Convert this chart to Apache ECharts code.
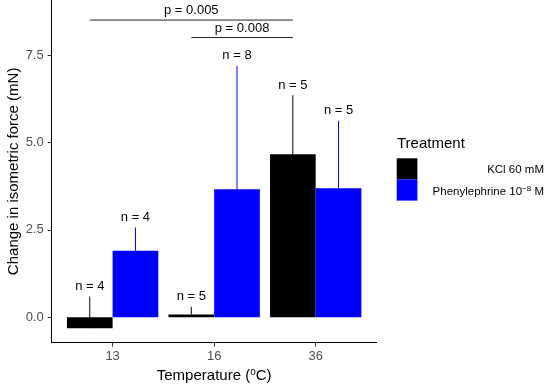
<!DOCTYPE html>
<html>
<head>
<meta charset="utf-8">
<script src="https://cdn.jsdelivr.net/npm/echarts@6/dist/echarts.min.js"></script>
<style>
html,body{margin:0;padding:0;background:#fff;}
#chart{width:550px;height:389px;}
</style>
</head>
<body>
<div id="chart"></div>
<script>
const categories = ['13', '16', '36'];
const kclMean = [-0.31, 0.08, 4.66];
const kclUpper = [0.59, 0.30, 6.35];
const pheMean = [1.90, 3.66, 3.69];
const pheUpper = [2.57, 7.19, 5.62];
const kclN = [4, 5, 5];
const pheN = [4, 8, 5];
const yTicks = [0, 2.5, 5, 7.5];
const bracketFrom = ['13', '16'];
const bracketTo = ['36', '36'];
const bracketY = [8.5, 8.0];
const bracketLabel = ['p = 0.005', 'p = 0.008'];

const FONT = 'Liberation Sans, Arial, sans-serif';
const KCL_COLOR = '#000000';
const PHE_COLOR = '#0000FF';
const DODGE = 0.45;

function barSeries(name, means, side, color) {
  return {
    name: name,
    type: 'custom',
    data: categories.map((c, i) => [i + 1, means[i]]),
    renderItem: function (params, api) {
      const x = api.value(0), y = api.value(1);
      const xa = side < 0 ? x - DODGE : x;
      const xb = side < 0 ? x : x + DODGE;
      const p0 = api.coord([xa, y]);
      const p1 = api.coord([xb, 0]);
      return {
        type: 'rect',
        shape: {
          x: Math.min(p0[0], p1[0]),
          y: Math.min(p0[1], p1[1]),
          width: Math.abs(p1[0] - p0[0]),
          height: Math.abs(p1[1] - p0[1])
        },
        style: { fill: color }
      };
    },
    z: 2
  };
}

function errSeries(name, means, uppers, ns, side, color) {
  return {
    name: name + ' err',
    type: 'custom',
    data: categories.map((c, i) => [i + 1, means[i], uppers[i], ns[i]]),
    renderItem: function (params, api) {
      const x = api.value(0) + side * DODGE / 2;
      const pm = api.coord([x, api.value(1)]);
      const pu = api.coord([x, api.value(2)]);
      return {
        type: 'group',
        children: [
          {
            type: 'line',
            shape: { x1: pm[0], y1: pm[1], x2: pu[0], y2: pu[1] },
            style: { stroke: color, lineWidth: 1 }
          },
          {
            type: 'text',
            x: pu[0], y: pu[1] - 10,
            style: {
              text: 'n = ' + api.value(3),
              fontSize: 13, fontFamily: FONT, fill: '#000',
              align: 'center', verticalAlign: 'middle'
            }
          }
        ]
      };
    },
    z: 3
  };
}

const bracketData = bracketLabel.map((l, i) => [
  categories.indexOf(bracketFrom[i]) + 1 - DODGE / 2,
  categories.indexOf(bracketTo[i]) + 1 - DODGE / 2,
  bracketY[i], i
]);

const option = {
  animation: false,
  backgroundColor: '#fff',
  grid: { left: 51.7, right: 173.4, top: 0, bottom: 46.3, containLabel: false, outerBoundsMode: 'none' },
  xAxis: {
    type: 'value', min: 0.4, max: 3.6,
    splitLine: { show: false },
    axisLine: { show: true, onZero: false, lineStyle: { color: '#000', width: 1 } },
    axisTick: { show: true, customValues: [1, 2, 3], length: 4, lineStyle: { color: '#333' } },
    axisLabel: {
      customValues: [1, 2, 3], margin: 7,
      formatter: v => categories[Math.round(v) - 1],
      fontSize: 13, fontFamily: FONT, color: '#4D4D4D'
    },
    name: '{a|Temperature (}{s|o}{a|C)}',
    nameLocation: 'middle', nameGap: 25, nameMoveOverlap: false,
    nameTextStyle: {
      rich: {
        a: { fontSize: 15, fontFamily: FONT, color: '#000', lineHeight: 16 },
        s: { fontSize: 10, fontFamily: FONT, color: '#000', lineHeight: 9, verticalAlign: 'top' }
      }
    }
  },
  yAxis: {
    type: 'value', min: -0.726, max: 9.074,
    splitLine: { show: false },
    axisLine: { show: true, onZero: false, lineStyle: { color: '#000', width: 1 } },
    axisTick: { show: true, customValues: yTicks, length: 4, lineStyle: { color: '#333' } },
    axisLabel: {
      customValues: yTicks, margin: 8,
      formatter: v => v.toFixed(1),
      fontSize: 13, fontFamily: FONT, color: '#4D4D4D'
    },
    name: 'Change in isometric force (mN)',
    nameLocation: 'middle', nameGap: 30, nameMoveOverlap: false,
    nameTextStyle: { fontSize: 15, fontFamily: FONT, color: '#000' }
  },
  series: [
    errSeries('KCl 60 mM', kclMean, kclUpper, kclN, -1, KCL_COLOR),
    errSeries('Phenylephrine', pheMean, pheUpper, pheN, 1, PHE_COLOR),
    barSeries('KCl 60 mM', kclMean, -1, KCL_COLOR),
    barSeries('Phenylephrine 10-8 M', pheMean, 1, PHE_COLOR),
    {
      name: 'brackets',
      type: 'custom',
      data: bracketData,
      renderItem: function (params, api) {
        const y = api.value(2);
        const a = api.coord([api.value(0), y]);
        const b = api.coord([api.value(1), y]);
        return {
          type: 'group',
          children: [
            { type: 'line', shape: { x1: a[0], y1: a[1], x2: b[0], y2: b[1] },
              style: { stroke: '#222', lineWidth: 1 } },
            { type: 'text', x: (a[0] + b[0]) / 2, y: a[1] - 9.5,
              style: { text: bracketLabel[api.value(3)], fontSize: 13, fontFamily: FONT,
                       fill: '#000', align: 'center', verticalAlign: 'middle' } }
          ]
        };
      },
      z: 4
    }
  ],
  graphic: [
    { type: 'text', left: 397, top: 136,
      style: { text: 'Treatment', fontSize: 15, fontFamily: FONT, fill: '#000' } },
    { type: 'rect', shape: { x: 396.7, y: 158.3, width: 20.7, height: 21 }, style: { fill: KCL_COLOR } },
    { type: 'rect', shape: { x: 396.7, y: 179.3, width: 20.7, height: 21.3 }, style: { fill: PHE_COLOR } },
    { type: 'text', x: 544, y: 170,
      style: { text: 'KCl 60 mM', fontSize: 11.5, fontFamily: FONT, fill: '#000',
               align: 'right', verticalAlign: 'middle' } },
    { type: 'text', x: 544, y: 191.5,
      style: {
        text: '{a|Phenylephrine 10}{s|−8}{a| M}',
        align: 'right', verticalAlign: 'middle',
        rich: {
          a: { fontSize: 11.5, fontFamily: FONT, fill: '#000', lineHeight: 14 },
          s: { fontSize: 8, fontFamily: FONT, fill: '#000', lineHeight: 9, verticalAlign: 'top' }
        }
      } }
  ]
};

const chart = echarts.init(document.getElementById('chart'), null, { renderer: 'canvas' });
chart.setOption(option);
</script>
</body>
</html>
